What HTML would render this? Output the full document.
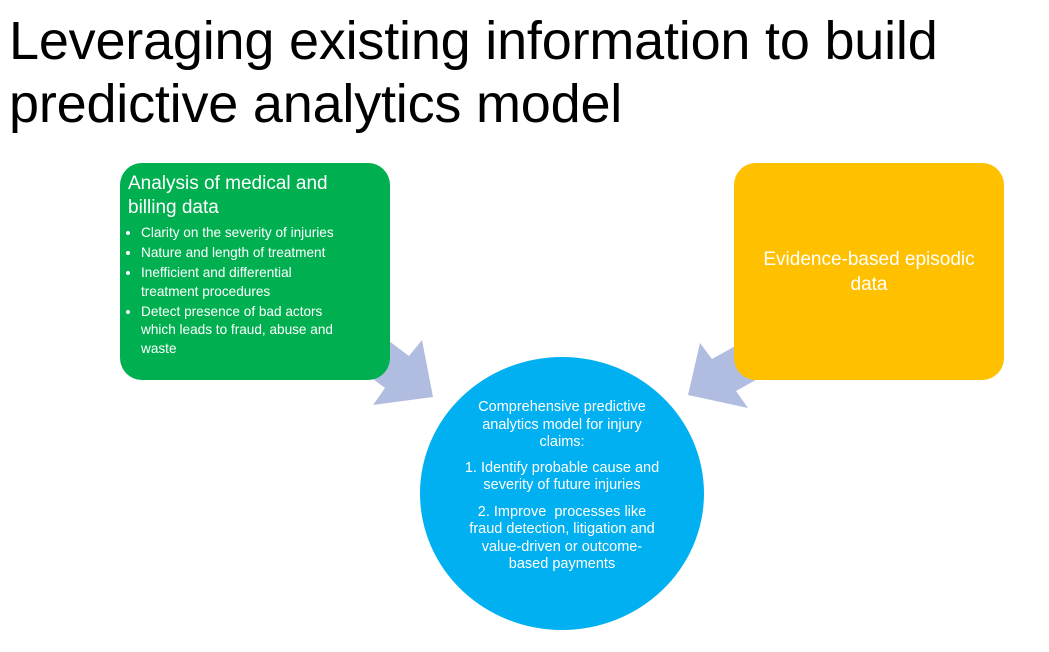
<!DOCTYPE html>
<html><head><style>
body{margin:0;width:1049px;height:652px;background:#fff;position:relative;overflow:hidden;font-family:"Liberation Sans",sans-serif}
.t{position:absolute;left:9px;top:10px;font-size:54px;line-height:63px;color:#000;letter-spacing:-0.2px}
.box{position:absolute;border-radius:22px;color:#fff}
ul{margin:4px 0 0 0;font-size:13.6px;line-height:18.5px;padding-left:21px;width:240px}
li{margin:0 0 1.5px 0}
</style></head><body>
<div class="t">Leveraging existing information to build<br>predictive analytics model</div>
<svg width="1049" height="652" style="position:absolute;left:0;top:0">
<polygon points="329,296 409,356 422,340 433,397 373,405 385,388 305,328" fill="#b0bde0"/>
<polygon points="782,320 712,359 700,343 688,395 748,408 736,391 806,352" fill="#b0bde0"/>
</svg>
<div class="box" style="left:120px;top:163px;width:270px;height:217px;background:#00b050">
<div style="padding:9px 0 0 8px;font-size:19px;line-height:24px">Analysis of medical and<br>billing data</div>
<ul>
<li>Clarity on the severity of injuries</li>
<li>Nature and length of treatment</li>
<li>Inefficient and differential<br>treatment procedures</li>
<li>Detect presence of bad actors<br>which leads to fraud, abuse and<br>waste</li>
</ul></div>
<div class="box" style="left:734px;top:163px;width:270px;height:217px;background:#ffc000">
<div style="position:absolute;top:84px;width:100%;text-align:center;font-size:19px;line-height:25px">Evidence-based episodic<br>data</div></div>
<div style="position:absolute;left:420px;top:357px;width:284px;height:273px;border-radius:50%;background:#00b0f0;color:#fff;text-align:center;font-size:14.5px;line-height:17.5px">
<div style="margin-top:42px">Comprehensive predictive<br>analytics model for injury<br>claims:</div>
<div style="margin-top:8px">1. Identify probable cause and<br>severity of future injuries</div>
<div style="margin-top:9px">2. Improve &nbsp;processes like<br>fraud detection, litigation and<br>value-driven or outcome-<br>based payments</div>
</div>
</body></html>
